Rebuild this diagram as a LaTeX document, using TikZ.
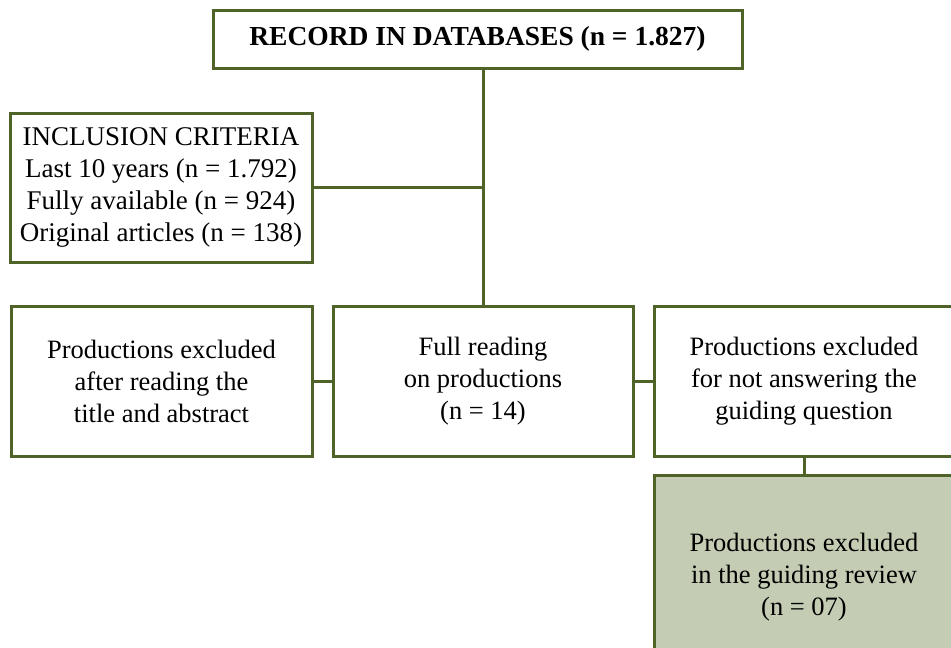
\documentclass[tikz,border=0pt]{standalone}
\usepackage{fontspec}
\setmainfont{Liberation Serif}
\definecolor{olivel}{HTML}{4F6228}
\definecolor{olivef}{HTML}{C4CDB4}
\tikzset{
  x=1pt,y=-1pt,
  box/.style={draw=olivel, line width=3pt, align=center, inner sep=0pt, font=\fontsize{26.5}{32}\selectfont},
  link/.style={draw=olivel, line width=3pt}
}
\begin{document}
\begin{tikzpicture}
\useasboundingbox (0,0) rectangle (951,648);
\clip (0,0) rectangle (951,648);
\node[box, minimum width=529pt, minimum height=58pt, font=\fontsize{27.5}{32}\selectfont\bfseries] (top) at (477.5,39) {RECORD IN DATABASES (n = 1.827)};
\node[box, minimum width=302pt, minimum height=149pt, font=\fontsize{27}{32}\selectfont] (incl) at (161,187.5) {INCLUSION CRITERIA\\Last 10 years (n = 1.792)\\Fully available (n = 924)\\Original articles (n = 138)};
\node[box, minimum width=301pt, minimum height=150pt] (left) at (161.5,381) {Productions excluded\\after reading the\\title and abstract};
\node[box, minimum width=300pt, minimum height=150pt] (mid) at (483,381) {Full reading\\on productions\\(n = 14)};
\node[box, minimum width=300pt, minimum height=150pt] (right) at (804,381) {Productions excluded\\for not answering the\\guiding question};
\node[box, fill=olivef, minimum width=300pt, minimum height=204pt] (bot) at (804,577) {Productions excluded\\in the guiding review\\(n = 07)};
\coordinate (jn) at (incl.east -| mid.north);
\draw[link] (top.south -| mid.north) -- (mid.north);
\draw[link] (incl.east) -- (jn);
\draw[link] (left.east) -- (mid.west);
\draw[link] (mid.east) -- (right.west);
\draw[link] (right.south) -- (bot.north);
\end{tikzpicture}
\end{document}
